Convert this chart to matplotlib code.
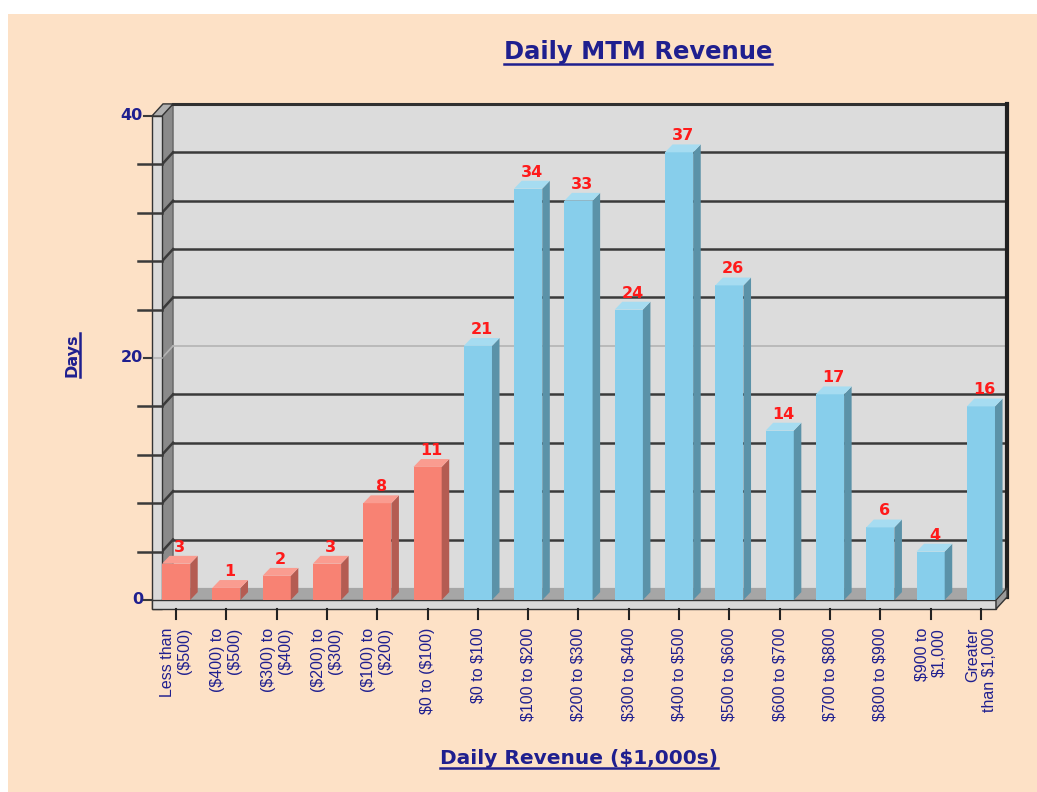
import matplotlib
matplotlib.use("Agg")
import matplotlib.pyplot as plt
from matplotlib.patches import Rectangle, Polygon
from matplotlib.lines import Line2D

# DATA ------------------------------------------------------
categories = ["Less than\n($500)", "($400) to\n($500)", "($300) to\n($400)",
              "($200) to\n($300)", "($100) to\n($200)", "$0 to ($100)",
              "$0 to $100", "$100 to $200", "$200 to $300", "$300 to $400",
              "$400 to $500", "$500 to $600", "$600 to $700", "$700 to $800",
              "$800 to $900", "$900 to\n$1,000", "Greater\nthan $1,000"]
days = [3, 1, 2, 3, 8, 11, 21, 34, 33, 24, 37, 26, 14, 17, 6, 4, 16]
loss_bins = 6          # the first six bins are losses (red)
y_labels = [0, 20, 40]
y_grid = list(range(4, 40, 4))

# STYLE -----------------------------------------------------
plt.rcParams["text.parse_math"] = False
navy = "#1F1F8F"
peach = "#FDE1C6"
red = ("#F88273", "#B45C52", "#FA9C90")     # front, side, top
blue = ("#87CEEB", "#5B92A8", "#A6DCF1")
dark = "#3A3A3A"

fig = plt.figure(figsize=(10.37, 7.92), dpi=100, facecolor="white")
fig.patches.append(Rectangle((8 / 1037, 0), 1, 1 - 14 / 792, transform=fig.transFigure,
                             facecolor=peach, edgecolor="none", zorder=-10))

ax = fig.add_axes([162 / 1037, 192 / 792, 834 / 1037, 484 / 792])
ax.set_xlim(-0.28, 16.30)
ax.set_ylim(0, 40)
ax.axis("off")
x0, x1 = ax.get_xlim()
top = y_labels[-1]

DX, DY = 0.22, 1.0       # depth of walls
BDX, BDY = 0.15, 0.65    # depth of bars
STRIP = 0.2              # frame thickness (x)
SH = 0.75                # frame thickness (y)

# back wall
ax.add_patch(Rectangle((x0 + DX, DY), x1 - x0, top, facecolor="#DCDCDC",
                       edgecolor="none", zorder=1, clip_on=False))
# left wall and floor
ax.add_patch(Polygon([(x0, 0), (x0 + DX, DY), (x0 + DX, top + DY), (x0, top)],
                     facecolor="#8A8A8A", edgecolor="#555555", lw=0.8, zorder=2, clip_on=False))
ax.add_patch(Polygon([(x0, 0), (x1, 0), (x1 + DX, DY), (x0 + DX, DY)],
                     facecolor="#A6A6A6", edgecolor="none", zorder=2, clip_on=False))

# gridlines on the back wall with their diagonal joins
for v in y_grid:
    c = "#B4B4B4" if v == 20 else dark
    lw = 1.2 if v == 20 else 1.8
    ax.plot([x0 + DX, x1 + DX], [v + DY, v + DY], color=c, lw=lw, zorder=2.5, clip_on=False)
    ax.plot([x0, x0 + DX], [v, v + DY], color=c, lw=lw, zorder=2.5, clip_on=False)
    ax.plot([x0 - (0.36 if v == 20 else 0.48), x0], [v, v], color=c, lw=lw,
            zorder=4, clip_on=False)

# top and right edges of the box
ax.plot([x0 + DX, x1 + DX], [top + DY, top + DY], color="#303030", lw=2.2, zorder=3, clip_on=False)
ax.plot([x1 + DX, x1 + DX], [DY - SH, top + DY], color="#202020", lw=3, zorder=3, clip_on=False)

# front frame strips
ax.add_patch(Rectangle((x0 - STRIP, -SH), STRIP, top + SH, facecolor="#DADADA",
                       edgecolor="#333333", lw=1, zorder=3, clip_on=False))
ax.add_patch(Polygon([(x0 - STRIP, top), (x0, top), (x0 + DX, top + DY), (x0 - STRIP + DX, top + DY)],
                     facecolor="#B0B0B0", edgecolor="#333333", lw=1, zorder=3, clip_on=False))
ax.add_patch(Rectangle((x0 - STRIP, -SH), x1 - x0 + STRIP, SH, facecolor="#DADADA",
                       edgecolor="#333333", lw=1, zorder=3, clip_on=False))
ax.add_patch(Polygon([(x1, -SH), (x1, 0), (x1 + DX, DY), (x1 + DX, DY - SH)],
                     facecolor="#9A9A9A", edgecolor="#333333", lw=1, zorder=3, clip_on=False))

# y tick marks / labels
for v in y_labels:
    ax.plot([x0 - 0.36, x0 - STRIP], [v, v], color=dark, lw=1.5, zorder=4, clip_on=False)
    ax.text(x0 - 0.38, v, str(v), ha="right", va="center", fontsize=11.5,
            fontweight="bold", color=navy, family="DejaVu Sans")

# bars
idx = list(range(len(days)))
w = 0.56
for i, v in enumerate(days):
    front, side, topc = red if i < loss_bins else blue
    ax.bar(i, v, width=w, color=front, zorder=5, clip_on=False)
    r = i + w / 2
    l = i - w / 2
    ax.add_patch(Polygon([(r, 0), (r + BDX, BDY), (r + BDX, v + BDY), (r, v)],
                         facecolor=side, edgecolor="none", zorder=5, clip_on=False))
    ax.add_patch(Polygon([(l, v), (r, v), (r + BDX, v + BDY), (l + BDX, v + BDY)],
                         facecolor=topc, edgecolor="none", zorder=5, clip_on=False))
    ax.text(i + BDX / 2, v + BDY + 0.1, str(v), ha="center", va="bottom", fontsize=11.5,
            fontweight="bold", color="#FF1A1A", zorder=6, family="DejaVu Sans")

# x tick marks and labels
for i, lab in zip(idx, categories):
    ax.plot([i, i], [-SH, -1.6], color="#222222", lw=1.5, zorder=4, clip_on=False)
    ax.text(i, -2.3, lab, rotation=90, ha="center", va="top", multialignment="right",
            fontsize=11.5, family="Liberation Sans", color=navy, linespacing=1.15)

# titles (underlined)
title = fig.text(638 / 1037, 1 - 52 / 792, "Daily MTM Revenue", ha="center", va="center",
                 fontsize=17.5, fontweight="bold", color=navy, family="DejaVu Sans")
xlab = fig.text(579 / 1037, 1 - 758 / 792, "Daily Revenue ($1,000s)", ha="center", va="center",
                fontsize=14.5, fontweight="bold", color=navy, family="DejaVu Sans")
ylab = fig.text(72 / 1037, 1 - 355 / 792, "Days", ha="center", va="center", rotation=90,
                fontsize=11.5, fontweight="bold", color=navy, family="DejaVu Sans")

fig.canvas.draw()
renderer = fig.canvas.get_renderer()
inv = fig.transFigure.inverted()
for t in (title, xlab):
    bb = t.get_window_extent(renderer)
    (ax_, ay_), (bx_, by_) = inv.transform([(bb.x0, bb.y0), (bb.x1, bb.y0)])
    fig.lines.append(Line2D([ax_, bx_], [ay_, by_], transform=fig.transFigure, color=navy, lw=1.8))
bb = ylab.get_window_extent(renderer)
(ax_, ay_), (bx_, by_) = inv.transform([(bb.x1, bb.y0), (bb.x1, bb.y1)])
fig.lines.append(Line2D([ax_, bx_], [ay_, by_], transform=fig.transFigure, color=navy, lw=1.8))

fig.savefig("out.png", dpi=100, facecolor=fig.get_facecolor())
